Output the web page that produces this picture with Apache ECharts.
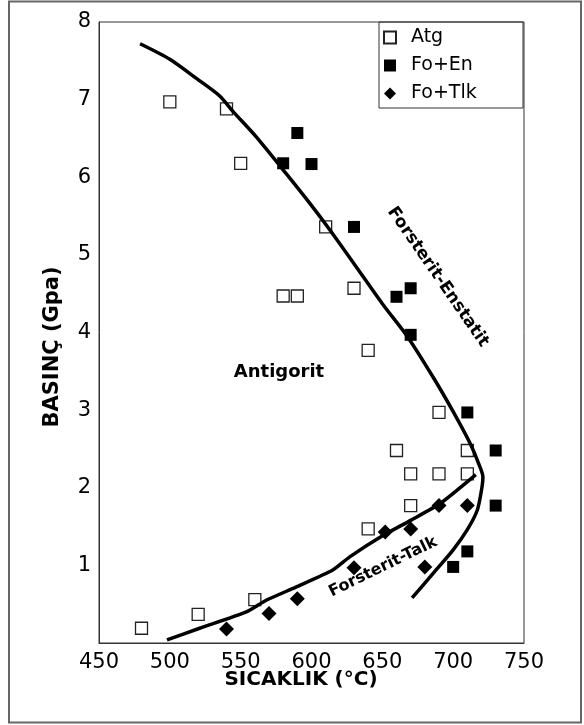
<!DOCTYPE html>
<html><head><meta charset="utf-8">
<script src="https://cdn.jsdelivr.net/npm/echarts@6/dist/echarts.min.js"></script>
<style>html,body{margin:0;padding:0;background:#fff}#c{width:584px;height:725px}</style>
</head><body><div id="c"></div>
<script>
// Axis ranges / ticks
const xMin = 450, xMax = 750, xStep = 50;
const yMin = 0, yMax = 8, yStep = 1;

// Series: [temperature °C, pressure GPa]
const atg = [[500,6.97],[540,6.88],[550,6.18],[610,5.36],[580,4.47],[590,4.47],[630,4.57],[640,3.77],
             [690,2.97],[660,2.48],[710,2.48],[670,2.18],[690,2.18],[710,2.18],[670,1.77],[640,1.47],
             [560,0.56],[520,0.37],[480,0.19]];
const foEn = [[590,6.57],[580,6.18],[600,6.17],[630,5.36],[660,4.46],[670,4.57],[670,3.97],[710,2.97],
              [730,2.48],[730,1.77],[710,1.18],[700,0.98]];
const foTlk = [[540,0.18],[570,0.38],[590,0.57],[630,0.97],[652,1.43],[670,1.47],[690,1.77],[710,1.77],[680,0.98]];

// Reaction boundaries
const fsEnLine = [[479,7.72],[500,7.52],[519,7.27],[535,7.05],[545,6.84],[561,6.52],[582,6.05],[599,5.66],
                  [613,5.32],[631,4.86],[650,4.37],[668,3.94],[686,3.42],[700,2.98],[712,2.57],[718,2.31],
                  [721,2.14],[720,1.97],[717,1.71],[710,1.46],[700,1.20],[686,0.90],[671,0.58]];
const fsTlkLine = [[498,0.04],[521,0.19],[554,0.40],[568,0.55],[589,0.72],[615,0.94],[627,1.11],
                   [651,1.39],[670,1.58],[691,1.80],[716,2.17]];

const labels = {
  x: 'SICAKLIK (°C)', y: 'BASINÇ (Gpa)',
  antigorit: 'Antigorit', fe: 'Forsterit-Enstatit', ft: 'Forsterit-Talk'
};

const chart = echarts.init(document.getElementById('c'));
const FONT = 'DejaVu Sans';
chart.setOption({
  animation: false,
  backgroundColor: '#fff',
  grid: { left: 99, right: 60, top: 22, bottom: 82, show: true, borderColor: '#333', borderWidth: 1 },
  xAxis: {
    type: 'value', min: xMin, max: xMax, interval: xStep,
    axisLine: { show: true, lineStyle: { color: '#333', width: 1 } },
    axisTick: { show: false }, splitLine: { show: false },
    axisLabel: { fontFamily: FONT, fontSize: 21, color: '#000', margin: 9 }
  },
  yAxis: {
    type: 'value', min: yMin, max: yMax, interval: yStep,
    axisLine: { show: true, lineStyle: { color: '#333', width: 1 } },
    axisTick: { show: false }, splitLine: { show: false },
    axisLabel: { fontFamily: FONT, fontSize: 21, color: '#000', margin: 8, padding: [6,0,0,0],
      formatter: v => v === 0 ? '' : String(v) }
  },
  legend: {
    data: ['Atg','Fo+En','Fo+Tlk'],
    orient: 'vertical', left: 383, top: 28, padding: 0,
    itemWidth: 12, itemHeight: 12, itemGap: 9,
    textStyle: { fontFamily: FONT, fontSize: 19, color: '#000', padding: [0,0,0,10] }
  },
  series: [
    { name: 'FE', type: 'line', data: fsEnLine, showSymbol: false, smooth: 0.25, z: 3,
      lineStyle: { color: '#000', width: 3.5 }, silent: true },
    { name: 'FT', type: 'line', data: fsTlkLine, showSymbol: false, smooth: 0.2, z: 3,
      lineStyle: { color: '#000', width: 3.5 }, silent: true },
    { name: 'Atg', type: 'scatter', data: atg, symbol: 'rect', symbolSize: 12, z: 2,
      itemStyle: { color: '#fff', borderColor: '#222', borderWidth: 1.3, opacity: 1 } },
    { name: 'Fo+En', type: 'scatter', data: foEn, symbol: 'rect', symbolSize: 12, z: 2,
      itemStyle: { color: '#000', opacity: 1 } },
    { name: 'Fo+Tlk', type: 'scatter', data: foTlk, symbol: 'diamond', symbolSize: 15, z: 2,
      itemStyle: { color: '#000', opacity: 1 } }
  ],
  graphic: [
    { type: 'rect', shape: { x: 9, y: 1.5, width: 572, height: 721 }, silent: true,
      style: { fill: 'none', stroke: '#666', lineWidth: 2 } },
    { type: 'rect', shape: { x: 379, y: 22, width: 144, height: 86 }, silent: true,
      style: { fill: 'none', stroke: '#333', lineWidth: 1 } },
    { type: 'text', x: 301, y: 680, silent: true,
      style: { text: labels.x, font: 'bold 20px "DejaVu Sans"', fill: '#000', align: 'center', verticalAlign: 'middle' } },
    { type: 'text', x: 53, y: 347, rotation: Math.PI/2, silent: true,
      style: { text: labels.y, font: 'bold 21px "DejaVu Sans"', fill: '#000', align: 'center', verticalAlign: 'middle' } },
    { type: 'text', x: 279, y: 372, silent: true,
      style: { text: labels.antigorit, font: 'bold 18px "DejaVu Sans"', fill: '#000', align: 'center', verticalAlign: 'middle' } },
    { type: 'text', x: 438, y: 277, rotation: -55.4*Math.PI/180, silent: true,
      style: { text: labels.fe, font: 'bold 17px "DejaVu Sans"', fill: '#000', align: 'center', verticalAlign: 'middle' } },
    { type: 'text', x: 383, y: 567, rotation: 26*Math.PI/180, silent: true,
      style: { text: labels.ft, font: 'bold 16px "DejaVu Sans"', fill: '#000', align: 'center', verticalAlign: 'middle' } }
  ]
});
</script>
</body></html>
